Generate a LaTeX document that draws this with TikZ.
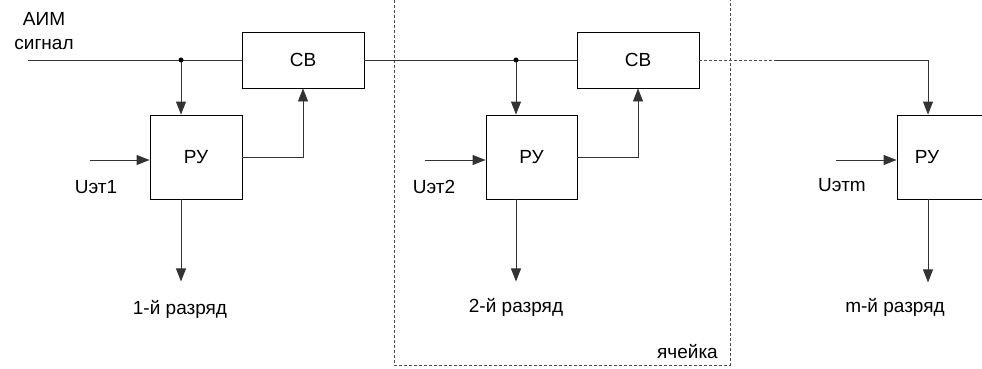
\documentclass[tikz,border=0pt]{standalone}
\usepackage{fontspec}
\setmainfont{Liberation Sans}
\usetikzlibrary{arrows.meta}

\tikzset{
  line/.style={draw=black!80, line width=0.9pt},
  cell/.style={draw=black!70, line width=0.7pt, dash pattern=on 3pt off 2pt},
}

\begin{document}
\begin{tikzpicture}[x=1pt,y=-1pt,font=\fontsize{19}{24}\selectfont,
    >={Triangle[length=13pt,width=10pt]}]

        \useasboundingbox (0,0) rectangle (982,369);
        \clip (0,0) rectangle (982,369);

        \begin{scope}[every node/.style={draw,line width=0.9pt,inner sep=0pt}]
          \node[minimum width=122pt,minimum height=56pt] (sv1) at (303,60)  {СВ};
          \node[minimum width=122pt,minimum height=56pt] (sv2) at (638,60)  {СВ};
          \node[minimum width=92pt,minimum height=84pt]  (ru1) at (196,157) {РУ};
          \node[minimum width=91pt,minimum height=84pt]  (ru2) at (531.5,157) {РУ};
          \node[minimum width=92pt,minimum height=84pt]  (ru3) at (943,157) {};
        \end{scope}
        \node (ru3t) at (927,157) {РУ};

        % points on the signal line
        \coordinate (in) at (28,60);
        \coordinate (d1) at (181,60);
        \coordinate (d2) at (516,60);
        \coordinate (e3) at (775,60);
        \coordinate (t3) at (928,60);

        \coordinate (u1) at (90,160);
        \coordinate (u2) at (425,160);
        \coordinate (u3) at (836,160);

        \begin{scope}[every node/.style={inner sep=0pt}]
          \node[align=center] (aim) at (44,31) {АИМ\\сигнал};
          \node (n1) at (96,187)  {Uэт1};
          \node (n2) at (434,187) {Uэт2};
          \node (n3) at (842,185) {Uэтm};
          \node (r1) at (180,309) {1-й разряд};
          \node (r2) at (516,307) {2-й разряд};
          \node (r3) at (895,307) {m-й разряд};
          \node[anchor=east] (cl) at (718,352) {ячейка};
        \end{scope}

        % cell frame
        \draw[cell] (394,-5) rectangle (730,365);

        \begin{scope}[line]
          \draw (in) -- (sv1.west);
          \draw (sv1.east) -- (sv2.west);
          \draw (e3) -- (t3);
          \draw[->] (t3) -- (t3 |- ru3.north);
          \draw[->] (d1) -- (d1 |- ru1.north);
          \draw[->] (d2) -- (d2 |- ru2.north);
          \draw[->] (ru1.east) -| (sv1.south);
          \draw[->] (ru2.east) -| (sv2.south);
          \draw[->] (u1) -- (u1 -| ru1.west);
          \draw[->] (u2) -- (u2 -| ru2.west);
          \draw[->] (u3) -- (u3 -| ru3.west);
          \draw[->] (d1 |- ru1.south) -- +(0,82);
          \draw[->] (d2 |- ru2.south) -- +(0,82);
          \draw[->] (t3 |- ru3.south) -- +(0,83);
        \end{scope}
        \draw[cell] (sv2.east) -- (e3);

        \fill (d1) circle (2.5pt);
        \fill (d2) circle (2.5pt);

      \end{tikzpicture}
\end{document}
